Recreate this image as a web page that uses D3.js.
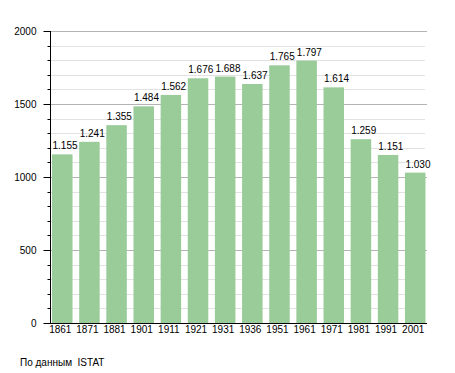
<!DOCTYPE html>
<html>
<head>
<meta charset="utf-8">
<script src="https://cdn.jsdelivr.net/npm/d3@7"></script>
<style>
  body { margin: 0; background: #fff; }
  text { font-family: "Liberation Sans", Arial, sans-serif; font-size: 10px; fill: #000; }
</style>
</head>
<body>
<div class="chart"></div>
<script>
var width = 455,
    height = 373;

var years = ["1861", "1871", "1881", "1901", "1911", "1921", "1931", "1936", "1951", "1961", "1971", "1981", "1991", "2001"];
var population = [1155, 1241, 1355, 1484, 1562, 1676, 1688, 1637, 1765, 1797, 1614, 1259, 1151, 1030];
var majorTicks = [0, 500, 1000, 1500, 2000];
var source = "По данным  ISTAT";

var plotLeft = 50, plotRight = 427, plotTop = 31, plotBottom = 323;

var x = d3.scaleBand()
    .domain(years)
    .range([48.5, 429])
    .paddingInner(0.245)
    .paddingOuter(0.13);

var y = d3.scaleLinear()
    .domain([0, 2000])
    .range([plotBottom, plotTop]);

var fmt = d3.formatLocale({decimal: ",", thousands: ".", grouping: [3], currency: ["", ""]}).format(",");

var svg = d3.select(".chart").append("svg")
    .attr("width", width)
    .attr("height", height);

// minor grid every 100
var minor = d3.range(100, 2000, 100).filter(function(d) { return d % 500 != 0; });
svg.append("g").selectAll("line")
    .data(minor)
  .enter().append("line")
    .attr("x1", plotLeft).attr("x2", plotRight - 2)
    .attr("y1", function(d) { return Math.round(y(d)) + 0.5; })
    .attr("y2", function(d) { return Math.round(y(d)) + 0.5; })
    .attr("stroke", "#e2e2e2");

svg.append("g").selectAll("line")
    .data(majorTicks.slice(1))
  .enter().append("line")
    .attr("x1", plotLeft).attr("x2", plotRight)
    .attr("y1", function(d) { return Math.round(y(d)) + 0.5; })
    .attr("y2", function(d) { return Math.round(y(d)) + 0.5; })
    .attr("stroke", "#b4b4b4");

// bars
svg.append("g").selectAll("rect")
    .data(population)
  .enter().append("rect")
    .attr("x", function(d, i) { return x(years[i]); })
    .attr("width", x.bandwidth())
    .attr("y", function(d) { return y(d); })
    .attr("height", function(d) { return y(0) - y(d); })
    .attr("fill", "#99cc99");

// value labels
svg.append("g").selectAll("text")
    .data(population)
  .enter().append("text")
    .attr("x", function(d, i) { return x(years[i]) + 0.5; })
    .attr("y", function(d) { return y(d) - 5; })
    .text(function(d) { return fmt(d); });

// y axis
var yAxis = svg.append("g")
    .attr("transform", "translate(" + (plotLeft + 0.5) + ",0)")
    .call(d3.axisLeft(y).tickValues(majorTicks).tickFormat(d3.format("d")).tickSize(7).tickPadding(7));
yAxis.select(".domain").remove();
yAxis.attr("font-family", null).attr("font-size", null);
yAxis.selectAll("line").attr("stroke", "#000");

svg.append("g")
    .attr("transform", "translate(" + (plotLeft + 0.5) + ",0)")
    .selectAll("line")
    .data(minor)
  .enter().append("line")
    .attr("x1", -3).attr("x2", 0)
    .attr("y1", function(d) { return Math.round(y(d)) + 0.5; })
    .attr("y2", function(d) { return Math.round(y(d)) + 0.5; })
    .attr("stroke", "#000");

svg.append("line")
    .attr("x1", plotLeft + 0.5).attr("x2", plotLeft + 0.5)
    .attr("y1", plotTop).attr("y2", plotBottom + 0.5)
    .attr("stroke", "#000");

svg.append("line")
    .attr("x1", plotLeft - 6).attr("x2", plotRight)
    .attr("y1", plotBottom + 0.5).attr("y2", plotBottom + 0.5)
    .attr("stroke", "#000");

// x labels
svg.append("g").selectAll("text")
    .data(years)
  .enter().append("text")
    .attr("x", function(d) { return x(d) + x.bandwidth() / 2 - 2; })
    .attr("y", 333)
    .attr("text-anchor", "middle")
    .text(function(d) { return d; });

svg.append("text")
    .attr("x", 20)
    .attr("y", 366)
    .attr("xml:space", "preserve")
    .style("white-space", "pre")
    .text(source);
</script>
</body>
</html>
